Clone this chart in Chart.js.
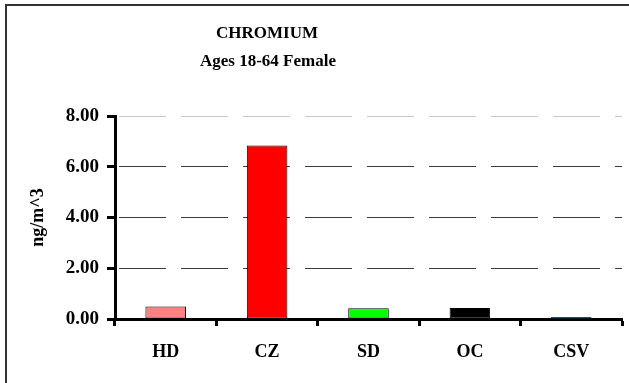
<!DOCTYPE html>
<html>
<head>
<meta charset="utf-8">
<script src="https://cdn.jsdelivr.net/npm/chart.js@4/dist/chart.umd.min.js"></script>
<style>
  html, body { margin: 0; padding: 0; background: #fff; }
  #wrap { width: 629px; height: 383px; }
</style>
</head>
<body>
<div id="wrap"><canvas id="chromium" width="629" height="383"></canvas></div>
<script>
// chromium, ages 18-64 female
const sites = ["HD", "CZ", "SD", "OC", "CSV"];
const concentrations = [0.49, 6.84, 0.42, 0.43, 0.08];
const barColors = ["#ff8080", "#ff0000", "#00ff00", "#000000", "#0a2a2a"];
const barEdges = ["#000000", "#000000", "#000000", "#000000", "#006060"];
const titleLines = ["CHROMIUM", "Ages 18-64 Female"];
const yUnits = "ng/m^3";

const SERIF = "'Liberation Serif', 'Times New Roman', serif";

// frame + two-line heading drawn by hand, Excel-style
const framePlugin = {
  id: "frame",
  afterDraw(chart) {
    const ctx = chart.ctx;
    ctx.save();
    ctx.strokeStyle = "#333";
    ctx.lineWidth = 2;
    ctx.beginPath();
    ctx.moveTo(6, 400);
    ctx.lineTo(6, 5);
    ctx.lineTo(640, 5);
    ctx.stroke();

    ctx.fillStyle = "#000";
    ctx.textAlign = "center";
    ctx.textBaseline = "alphabetic";
    ctx.font = "bold 17px " + SERIF;
    ctx.fillText(titleLines[0], 267, 38);
    ctx.fillText(titleLines[1], 268, 66);
    ctx.restore();
  }
};

new Chart(document.getElementById("chromium"), {
  type: "bar",
  data: {
    labels: sites,
    datasets: [{
      data: concentrations,
      backgroundColor: barColors,
      borderColor: barEdges,
      borderWidth: 1,
      borderSkipped: false,
      barPercentage: 0.4,
      categoryPercentage: 1.0
    }]
  },
  options: {
    responsive: false,
    animation: false,
    layout: { padding: { left: 0, top: 116, right: 7, bottom: 0 } },
    plugins: {
      legend: { display: false },
      tooltip: { enabled: false },
      title: { display: false }
    },
    scales: {
      x: {
        afterFit(scale) { scale.height = 64; },
        grid: {
          offset: true,
          drawOnChartArea: false,
          drawTicks: true,
          tickLength: 7,
          tickWidth: 3,
          tickColor: "#000"
        },
        border: { display: true, color: "#000", width: 3 },
        ticks: {
          color: "#000",
          padding: 16,
          font: { family: SERIF, size: 18, weight: "bold" }
        }
      },
      y: {
        min: 0,
        max: 8,
        afterFit(scale) { scale.width = 115; },
        grid: {
          color: (c) => c.tick && c.tick.value === 8 ? "#c8c8c8" : (c.tick && c.tick.value === 0 ? "rgba(0,0,0,0)" : "#3c3c3c"),
          lineWidth: 1,
          drawTicks: true,
          tickLength: 8,
          tickWidth: 3,
          tickColor: "#000"
        },
        border: { display: true, color: "#000", width: 3, dash: [47, 15], dashOffset: -2 },
        ticks: {
          stepSize: 2,
          color: "#000",
          padding: 8,
          font: { family: SERIF, size: 19, weight: "bold" },
          callback: (v) => Number(v).toFixed(2)
        },
        title: {
          display: true,
          text: yUnits,
          color: "#000",
          padding: { top: 28, bottom: 0 },
          font: { family: SERIF, size: 18, weight: "bold" }
        }
      }
    }
  },
  plugins: [framePlugin]
});
</script>
</body>
</html>
